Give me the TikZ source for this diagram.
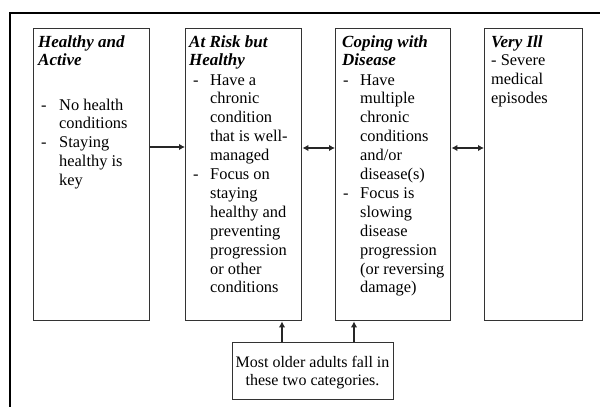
\documentclass[tikz,border=0pt]{standalone}
\usepackage{fontspec}
\setmainfont{Liberation Serif}
\usetikzlibrary{arrows.meta}
\newcommand{\ttl}[1]{{\fontsize{17}{18.9}\selectfont\textbf{\textit{#1}}}}
\begin{document}
\begin{tikzpicture}[x=1pt,y=-1pt,
  frame/.style={draw=black,line width=1.1pt},
  catbox/.style={draw=black!80,line width=1.4pt,rectangle,inner sep=0pt,anchor=north west},
  txt/.style={inner sep=0pt,anchor=base west,font=\fontsize{16.4}{18.9}\selectfont},
  ctxt/.style={inner sep=0pt,anchor=base,font=\fontsize{16}{18.9}\selectfont},
  conn/.style={line width=1.4pt,draw=black!85},
  tip/.style={-{Latex[length=6pt,width=6.5pt]}},
  dtip/.style={{Latex[length=6pt,width=6.5pt]}-{Latex[length=6pt,width=6.5pt]}}
]
\useasboundingbox (0,0) rectangle (600,407);
\coordinate (fa) at (10,407);
\coordinate (fb) at (10,13);
\coordinate (fc) at (600,13);
\draw[frame] (fa) -- (fb) -- (fc);

\node[catbox,minimum width=116pt,minimum height=292pt] (b1) at (33,28) {};
\node[catbox,minimum width=116pt,minimum height=292pt] (b2) at (185,28) {};
\node[catbox,minimum width=115pt,minimum height=292pt] (b3) at (335,28) {};
\node[catbox,minimum width=98pt,minimum height=292pt] (b4) at (484,28) {};
\node[catbox,minimum width=161pt,minimum height=57pt] (bot) at (232,342) {};

% box 1
\node[txt] (t1) at (38,47) {\begin{tabular}[t]{@{}l@{}}\ttl{Healthy and}\\\ttl{Active}\end{tabular}};
\node[txt] (l1) at (41,110) {\begin{tabular}[t]{@{}p{18pt}@{}l@{}}
-& No health\\ & conditions\\ -& Staying\\ & healthy is\\ & key\end{tabular}};

% box 2
\node[txt] (t2) at (189,47) {\begin{tabular}[t]{@{}l@{}}\ttl{At Risk but}\\\ttl{Healthy}\end{tabular}};
\node[txt] (l2) at (193,85) {\begin{tabular}[t]{@{}p{17pt}@{}l@{}}
-& Have a\\ & chronic\\ & condition\\ & that is well-\\ & managed\\
-& Focus on\\ & staying\\ & healthy and\\ & preventing\\ & progression\\ & or other\\ & conditions\end{tabular}};

% box 3
\node[txt] (t3) at (342,47) {\begin{tabular}[t]{@{}l@{}}\ttl{Coping with}\\\ttl{Disease}\end{tabular}};
\node[txt] (l3) at (343,85) {\begin{tabular}[t]{@{}p{17pt}@{}l@{}}
-& Have\\ & multiple\\ & chronic\\ & conditions\\ & and/or\\ & disease(s)\\
-& Focus is\\ & slowing\\ & disease\\ & progression\\ & (or reversing\\ & damage)\end{tabular}};

% box 4
\node[txt] (t4) at (491,47) {\begin{tabular}[t]{@{}l@{}}\ttl{Very Ill}\\- Severe\\medical\\episodes\end{tabular}};

% bottom box
\node[ctxt] (tb) at (312.5,367) {\begin{tabular}[t]{@{}c@{}}Most older adults fall in\\these two categories.\end{tabular}};

% connectors
\coordinate (h1) at (0,147);
\coordinate (h2) at (0,148);
\coordinate (v1) at (282,0);
\coordinate (v2) at (354,0);
\draw[conn,tip] (b1.east |- h1) -- (b2.west |- h1);
\draw[conn,dtip] (b2.east |- h2) -- (b3.west |- h2);
\draw[conn,dtip] (b3.east |- h2) -- (b4.west |- h2);
\draw[conn,tip] (v1 |- bot.north) -- (v1 |- b2.south);
\draw[conn,tip] (v2 |- bot.north) -- (v2 |- b3.south);
\end{tikzpicture}
\end{document}
